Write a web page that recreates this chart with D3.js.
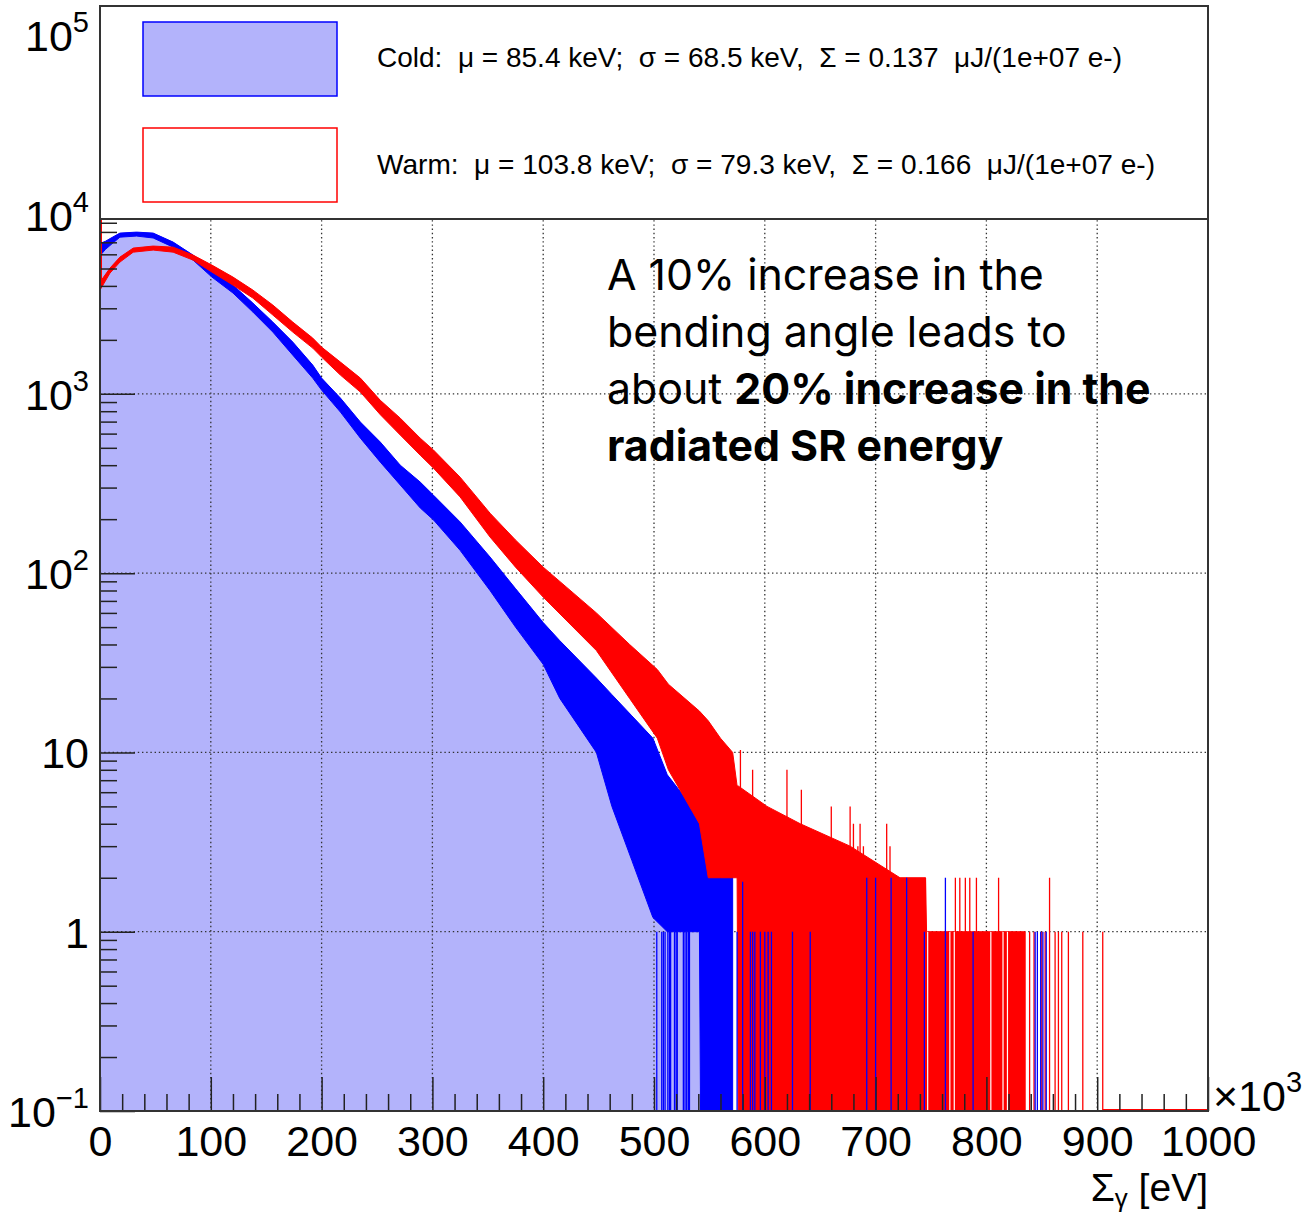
<!DOCTYPE html>
<html>
<head>
<meta charset="utf-8">
<script src="https://cdn.jsdelivr.net/npm/d3@7"></script>
<style>
  body { margin: 0; background: #fff; }
  svg text { font-family: "Liberation Sans", Arial, Helvetica, sans-serif; white-space: pre; }
</style>
</head>
<body>
<div id="chart"></div>
<script>
// ---- data ----
var energyTicks = [0, 100, 200, 300, 400, 500, 600, 700, 800, 900, 1000];
var countDecades = [0.1, 1, 10, 100, 1000, 10000, 100000];
var decadeBase = ['10', '1', '10', '10', '10', '10', '10'];
var decadeExp = ['\u22121', '', '', '2', '3', '4', '5'];

// Cold: energy (keV), top and bottom of the noisy histogram band (counts)
var coldKeV  = [0, 5, 10, 18, 33, 48, 66, 84, 101, 120, 138, 156, 174, 192, 200, 217, 235, 253, 271, 289, 301, 325, 352, 375, 400, 415, 448, 462, 480, 499, 512, 530, 541, 542, 548, 571];
var coldHigh = [6900, 7100, 7400, 7880, 7980, 7880, 7020, 5940, 4900, 4040, 3206, 2513, 1944, 1447, 1224, 947, 696, 538, 400, 322, 272, 193, 123, 82, 53, 42, 26, 21, 16, 12, 7.5, 5.4, 4, 4, 3, 3];
var coldLow  = [5900, 6400, 6800, 7480, 7585, 7400, 6580, 5570, 4480, 3650, 2858, 2210, 1644, 1224, 1049, 791, 566, 416, 310, 231, 198, 134, 80, 50, 31, 20, 10, 5, 2.5, 1.2, 1, 1, 1, 0.1, 0.1, 0.1];

// Warm: same layout
var warmKeV  = [0, 9, 18, 30, 48, 66, 84, 101, 120, 138, 156, 174, 192, 200, 217, 235, 253, 271, 289, 301, 325, 352, 375, 400, 448, 478, 503, 513, 541, 549, 560, 571, 575, 576, 602, 632, 677, 722, 745, 746, 835];
var warmHigh = [4200, 5027, 5790, 6500, 6670, 6580, 5940, 5224, 4480, 3790, 3126, 2513, 2046, 1822, 1503, 1224, 920, 732, 566, 486, 343, 216, 153, 108, 60, 40, 29, 24, 17, 15, 12, 10, 6.5, 6.5, 5, 4, 3, 2, 2, 1, 1];
var warmLow  = [3790, 4714, 5430, 6170, 6335, 6170, 5570, 4775, 4040, 3420, 2750, 2210, 1799, 1603, 1272, 1023, 765, 589, 455, 385, 266, 159, 108, 73.5, 37, 20, 12, 8, 4, 2, 2, 2, 2, 0.1, 0.1, 0.1, 0.1, 0.1, 0.1, 0.1, 0.1];

// single bins standing out of the bands (keV, counts)
var coldSpikeKeV   = [502.5, 507, 508.5, 510, 512.5, 514, 515, 518.5, 520, 521, 526.5, 528, 529.5, 531, 532, 575, 580, 587, 589, 591, 596, 600, 603, 606, 625, 641, 692, 700, 714, 728, 744, 763, 788, 844, 846, 849, 851, 854];
var coldSpikeCount = [1, 1, 1, 1, 1, 1, 1, 1, 1, 1, 1, 1, 1, 1, 1, 1, 1.9, 1, 1, 1, 1, 1, 1, 1, 1, 1, 2, 2, 2, 2, 1, 2, 1, 1, 1, 1, 1, 1];
var warmSpikeKeV   = [578, 589, 620, 633, 660, 677, 680, 684, 686, 689, 710, 713, 745, 772, 776, 781, 785, 791, 811, 839, 843, 850, 853, 857, 862, 865, 868, 874, 887, 905];
var warmSpikeCount = [10.3, 8, 8, 6.2, 5, 5, 4, 3, 4, 3, 4, 3, 2, 2, 2, 2, 2, 2, 2, 1, 1, 1, 1, 2, 1, 1, 1, 1, 1, 1];
var warmEmptyKeV   = [747, 767, 771, 804, 815, 819];

var seriesNames = ['Cold', 'Warm'];
var seriesMean  = [85.4, 103.8];
var seriesSigma = [68.5, 79.3];
var seriesSum   = [0.137, 0.166];

var noteLines = [
    [['A 10% increase in the', false]],
    [['bending angle leads to', false]],
    [['about ', false], ['20% increase in the', true]],
    [['radiated SR energy', true]]
];

// ---- layout ----
var width = 1307, height = 1214;
var plotLeft = 100, plotRight = 1208, plotTop = 6, plotBottom = 1111;
var yMaxCount = 1.456e5;

var coldFill = '#b3b3fb', coldLine = '#0000ff', warmLine = '#ff0000';
var axisColor = '#333';

var xScale = d3.scaleLinear().domain([0, 1000]).range([plotLeft, plotRight]);
var yScale = d3.scaleLog().domain([0.1, yMaxCount]).range([plotBottom, plotTop]);

function zipBand(keV, hi, lo) {
    return keV.map(function(k, i) { return {k: k, hi: hi[i], lo: lo[i]}; });
}
function zipSpikes(keV, counts) {
    return keV.map(function(k, i) { return {k: k, v: counts[i]}; });
}
var coldData = zipBand(coldKeV, coldHigh, coldLow);
var warmData = zipBand(warmKeV, warmHigh, warmLow);

var svg = d3.select('#chart').append('svg')
    .attr('width', width)
    .attr('height', height)
    .style('background', '#fff');

svg.append('defs').append('clipPath').attr('id', 'plotClip')
    .append('rect')
    .attr('x', plotLeft).attr('y', plotTop)
    .attr('width', plotRight - plotLeft).attr('height', plotBottom - plotTop);

var plot = svg.append('g').attr('clip-path', 'url(#plotClip)');

var fillArea = d3.area()
    .x(function(d) { return xScale(d.k); })
    .y0(plotBottom)
    .y1(function(d) { return yScale(d.hi); });

var bandArea = d3.area()
    .x(function(d) { return xScale(d.k); })
    .y0(function(d) { return yScale(d.lo); })
    .y1(function(d) { return yScale(d.hi); });

// light blue fill of the cold histogram
plot.append('path').datum(coldData)
    .attr('d', fillArea)
    .attr('fill', coldFill);

// dotted grid
var grid = plot.append('g')
    .attr('stroke', '#333')
    .attr('stroke-width', 1.3)
    .attr('stroke-dasharray', '1.4,2.8');
grid.selectAll('.vgrid')
    .data(energyTicks.filter(function(d) { return d > 0 && d < 1000; }))
    .enter().append('line')
    .attr('x1', function(d) { return xScale(d); })
    .attr('x2', function(d) { return xScale(d); })
    .attr('y1', plotTop).attr('y2', plotBottom);
grid.selectAll('.hgrid')
    .data(countDecades.filter(function(d) { return d > 0.1; }))
    .enter().append('line')
    .attr('y1', function(d) { return yScale(d); })
    .attr('y2', function(d) { return yScale(d); })
    .attr('x1', plotLeft).attr('x2', plotRight);

// cold band
plot.append('path').datum(coldData)
    .attr('d', bandArea)
    .attr('fill', coldLine)
    .attr('stroke', coldLine)
    .attr('stroke-width', 1);

// warm band
plot.append('path').datum(warmData)
    .attr('d', bandArea)
    .attr('fill', warmLine)
    .attr('stroke', warmLine)
    .attr('stroke-width', 1);

function drawSpikes(data, color, widthPx) {
    plot.append('g').selectAll('line')
        .data(data)
        .enter().append('line')
        .attr('x1', function(d) { return xScale(d.k); })
        .attr('x2', function(d) { return xScale(d.k); })
        .attr('y1', plotBottom)
        .attr('y2', function(d) { return yScale(d.v); })
        .attr('stroke', color)
        .attr('stroke-width', widthPx);
}

drawSpikes(zipSpikes(warmSpikeKeV, warmSpikeCount), warmLine, 1.3);
// empty warm bins show as white gaps in the solid red tail
drawSpikes(warmEmptyKeV.map(function(k) { return {k: k, v: 1}; }), '#fff', 1.2);
drawSpikes(zipSpikes(coldSpikeKeV, coldSpikeCount), coldLine, 1.3);

// red left edge of the warm histogram and its empty bins along the bottom
plot.append('line')
    .attr('x1', xScale(0) + 1).attr('x2', xScale(0) + 1)
    .attr('y1', yScale(warmHigh[0])).attr('y2', plotTop)
    .attr('stroke', warmLine).attr('stroke-width', 2);
plot.append('line')
    .attr('x1', xScale(warmSpikeKeV[warmSpikeKeV.length - 1])).attr('x2', xScale(1000))
    .attr('y1', plotBottom - 1).attr('y2', plotBottom - 1)
    .attr('stroke', warmLine).attr('stroke-width', 2);

// ---- axes (ticks point inwards, like ROOT) ----
var minorX = d3.range(0, 1001, 20).filter(function(d) { return d % 100 !== 0; });
var minorY = [];
countDecades.forEach(function(d) {
    for (var m = 2; m <= 9; m++) {
        if (d * m < yMaxCount) minorY.push(d * m);
    }
});

function styleAxis(g) {
    g.select('.domain').remove();
    g.selectAll('.tick line').attr('stroke', '#222').attr('stroke-width', 1.5);
}

var xAxisG = svg.append('g').attr('transform', 'translate(0,' + plotBottom + ')');
xAxisG.append('g')
    .call(d3.axisBottom(xScale).tickValues(minorX).tickSize(-17).tickFormat(''))
    .call(styleAxis);
xAxisG.append('g')
    .call(d3.axisBottom(xScale).tickValues(energyTicks).tickSize(-34).tickPadding(14)
        .tickFormat(function(d) { return d; }))
    .call(styleAxis)
    .selectAll('text')
    .attr('fill', '#000')
    .style('font-size', '43px');

var yAxisG = svg.append('g').attr('transform', 'translate(' + plotLeft + ',0)');
yAxisG.append('g')
    .call(d3.axisLeft(yScale).tickValues(minorY).tickSize(-17).tickFormat(''))
    .call(styleAxis);
yAxisG.append('g')
    .call(d3.axisLeft(yScale).tickValues(countDecades).tickSize(-35).tickFormat(''))
    .call(styleAxis);

// y labels as 10^n
var yLabels = svg.append('g');
countDecades.forEach(function(d, i) {
    var t = yLabels.append('text')
        .attr('x', 89)
        .attr('y', yScale(d) + 16)
        .attr('text-anchor', 'end')
        .attr('fill', '#000')
        .style('font-size', '43px');
    t.append('tspan').text(decadeBase[i]);
    if (decadeExp[i]) {
        t.append('tspan').attr('dy', -19).style('font-size', '29px').text(decadeExp[i]);
    }
});

// frame
svg.append('rect')
    .attr('x', plotLeft).attr('y', plotTop)
    .attr('width', plotRight - plotLeft).attr('height', plotBottom - plotTop)
    .attr('fill', 'none')
    .attr('stroke', axisColor)
    .attr('stroke-width', 2);

// x axis multiplier and title
var mult = svg.append('text')
    .attr('x', 1213).attr('y', plotBottom)
    .attr('fill', '#000')
    .style('font-size', '43px');
mult.append('tspan').text('\u00d710');
mult.append('tspan').attr('dy', -19).style('font-size', '29px').text('3');

var xTitle = svg.append('text')
    .attr('x', plotRight).attr('y', 1201)
    .attr('text-anchor', 'end')
    .attr('fill', '#000')
    .style('font-size', '39px');
xTitle.append('tspan').text('\u03a3');
xTitle.append('tspan').attr('dy', 6).style('font-size', '26px').text('\u03b3');
xTitle.append('tspan').attr('dy', -6).text(' [eV]');

// ---- legend ----
var legend = svg.append('g');
legend.append('rect')
    .attr('x', plotLeft).attr('y', plotTop)
    .attr('width', plotRight - plotLeft).attr('height', 213)
    .attr('fill', '#fff')
    .attr('stroke', axisColor)
    .attr('stroke-width', 2);

var legendRows = [
    {y: 22, fill: coldFill, stroke: coldLine, base: 67, len: 745},
    {y: 128, fill: '#fff', stroke: warmLine, base: 174, len: 778}
];
legendRows.forEach(function(r, i) {
    legend.append('rect')
        .attr('x', 143).attr('y', r.y)
        .attr('width', 194).attr('height', 74)
        .attr('fill', r.fill)
        .attr('stroke', r.stroke)
        .attr('stroke-width', 1.5);
    var label = seriesNames[i] + ':  \u03bc = ' + seriesMean[i].toFixed(1) + ' keV;  \u03c3 = ' +
        seriesSigma[i].toFixed(1) + ' keV,  \u03a3 = ' + seriesSum[i].toFixed(3) + '  \u03bcJ/(1e+07 e-)';
    legend.append('text')
        .attr('x', 377).attr('y', r.base)
        .attr('fill', '#000')
        .attr('textLength', r.len)
        .attr('lengthAdjust', 'spacingAndGlyphs')
        .style('font-size', '28px')
        .text(label);
});

// ---- annotation ----
var note = svg.append('g');
var noteTexts = [];
noteLines.forEach(function(line, i) {
    var t = note.append('text')
        .attr('x', 607).attr('y', 290 + i * 57)
        .attr('fill', '#000')
        .style('font-family', 'Inter, "Noto Sans", sans-serif')
        .style('font-size', '40px');
    line.forEach(function(seg) {
        t.append('tspan').style('font-weight', seg[1] ? 700 : 400).text(seg[0]);
    });
    noteTexts.push(t);
});
var noteW = noteTexts[0].node().getComputedTextLength();
noteTexts.forEach(function(t) { t.style('font-size', (40 * 437 / noteW) + 'px'); });
</script>
</body>
</html>
